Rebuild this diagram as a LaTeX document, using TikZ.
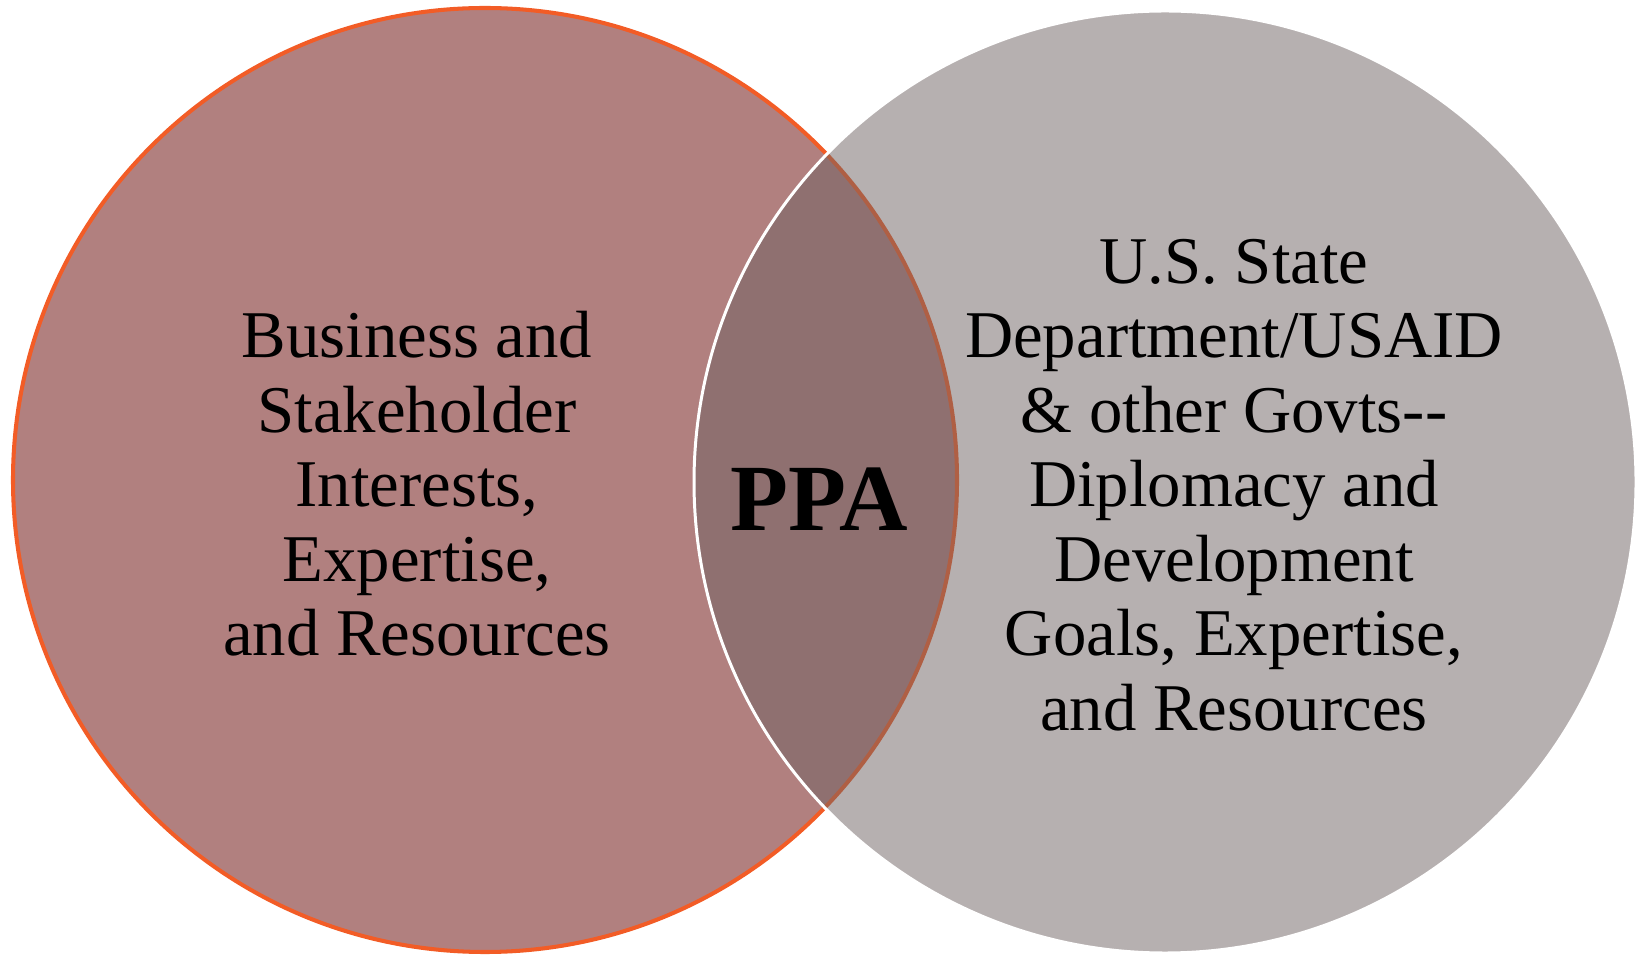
\documentclass[tikz,border=0pt]{standalone}
\usepackage{fontspec}
\setmainfont{Liberation Serif}
\definecolor{bizred}{RGB}{177,128,127}
\definecolor{bizedge}{RGB}{242,92,38}
\definecolor{govgray}{RGB}{110,98,98}
\tikzset{
  settext/.style={align=center, font=\fontsize{38}{42.4}\selectfont},
}
\begin{document}
\begin{tikzpicture}
    \useasboundingbox (0,0) rectangle (32.8,19.08);
    % draw the sets
    \filldraw[fill=bizred, draw=bizedge, line width=2.3pt] (9.70,9.48) circle (9.44cm);
    \filldraw[fill=govgray, fill opacity=0.5, draw=white, line width=1.7pt] (23.30,9.44) circle (9.42cm);

    % the texts
    \node[settext] (biz) at (8.34,9.40) {Business and\\Stakeholder\\Interests,\\Expertise,\\and Resources};
    \node[settext] (gov) at (24.68,9.38) {U.S. State\\Department/USAID\\\& other Govts-{}-\\Diplomacy and\\Development\\Goals, Expertise,\\and Resources};
    \node[font=\fontsize{54}{60}\selectfont\bfseries] (ppa) at (16.38,9.10) {PPA};
\end{tikzpicture}
\end{document}
